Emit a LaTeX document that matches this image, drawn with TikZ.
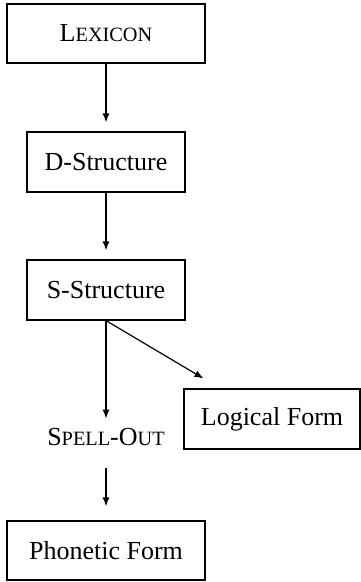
\documentclass[tikz,border=0pt]{standalone}
\usepackage{fontspec}
\setmainfont{Liberation Serif}
\usetikzlibrary{arrows.meta}

%% Faked small capitals: first letter full size, rest smaller.
\newcommand\lexsc[2]{#1{\fontsize{20.3}{24}\selectfont #2}}

\tikzset{
  levelbox/.style={draw, line width=1.2pt, inner sep=0pt,
    font=\fontsize{26}{30}\selectfont},
  flowarrow/.style={line width=1.2pt, -{Latex[length=9pt,width=7pt]}}
}

\begin{document}
\begin{tikzpicture}[x=1pt, y=-1pt]
  %% Fix the page to the size of the reference.
  \useasboundingbox (0,0) rectangle (361,582);

  %% Centre of the main column.
  \def\colx{106}

  %% The levels of representation.
  \node[levelbox, minimum width=198pt, minimum height=59pt] (lexicon) at (\colx,33.5) {\lexsc{L}{EXICON}};
  \node[levelbox, minimum width=158pt, minimum height=60pt] (dstruct) at (\colx,162) {D-Structure};
  \node[levelbox, minimum width=158pt, minimum height=60pt] (sstruct) at (\colx,290) {S-Structure};
  \node[levelbox, minimum width=176pt, minimum height=60pt] (lform) at (272,419) {Logical Form};
  \node[levelbox, minimum width=198pt, minimum height=59pt] (pform) at (\colx,550.5) {Phonetic Form};

  %% Spell-Out is plain text, no box.
  \node[font=\fontsize{26}{30}\selectfont, anchor=base, inner sep=0pt] (spell) at (\colx,445) {\lexsc{S}{PELL}-\lexsc{O}{UT}};

  %% Where the arrow to Logical Form stops.
  \coordinate (lftip) at ([xshift=20pt,yshift=10pt]lform.north west);

  %% Derivation arrows.
  \draw[flowarrow, shorten >=9pt] (lexicon.south) -- (dstruct.north);
  \draw[flowarrow, shorten >=9pt] (dstruct.south) -- (sstruct.north);
  \draw[flowarrow] (sstruct.south) -- (lftip);
  \draw[flowarrow, shorten >=9pt] (sstruct.south) -- (spell.north);
  \draw[flowarrow, shorten <=23pt, shorten >=14pt] (spell.south) -- (pform.north);
\end{tikzpicture}
\end{document}
